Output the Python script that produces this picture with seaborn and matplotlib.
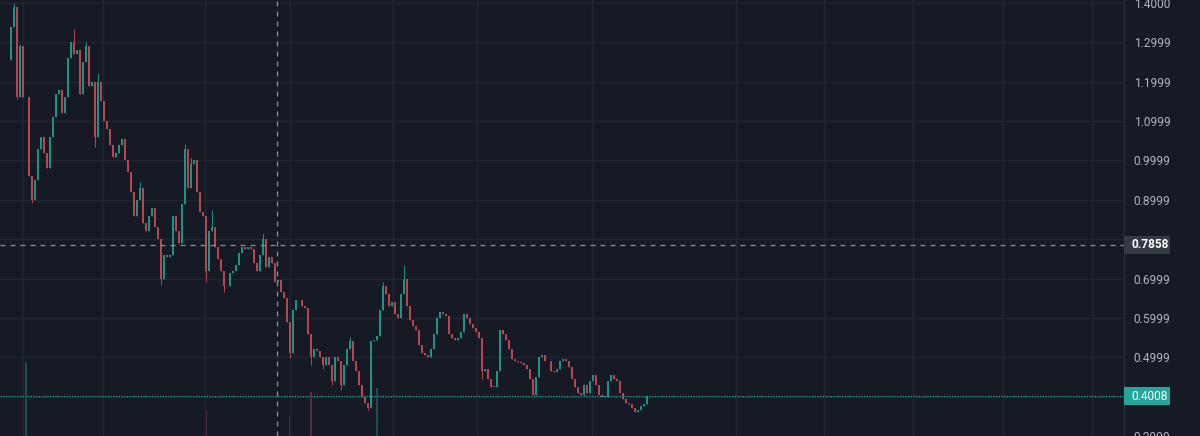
"""Dark trading-terminal style candlestick chart rendered with seaborn theme."""
import matplotlib

matplotlib.use("Agg")
import matplotlib.pyplot as plt
import matplotlib.transforms as mtransforms
from matplotlib.patches import Rectangle
import pandas as pd
import seaborn as sns

# Close prices, one per candle, read left to right off the chart.
closes = [
    1.34, 1.39, 1.16, 1.29, 1.16, 1.16, 0.96, 0.90, 0.95, 1.03,
    1.06, 1.02, 0.98, 1.06, 1.11, 1.17, 1.18, 1.12, 1.16, 1.26,
    1.30, 1.27, 1.28, 1.17, 1.25, 1.29, 1.19, 1.20, 1.06, 1.20,
    1.15, 1.10, 1.08, 1.04, 1.01, 1.02, 1.04, 1.055, 1.00, 0.97,
    0.92, 0.86, 0.90, 0.93, 0.84, 0.82, 0.86, 0.88, 0.83, 0.80,
    0.70, 0.76, 0.755, 0.76, 0.86, 0.82, 0.79, 0.89, 1.03, 0.93,
    0.99, 1.00, 0.92, 0.87, 0.86, 0.72, 0.82, 0.83, 0.78, 0.75,
    0.72, 0.68, 0.68, 0.715, 0.72, 0.735, 0.765, 0.78, 0.775, 0.78,
    0.775, 0.74, 0.72, 0.76, 0.80, 0.73, 0.755, 0.74, 0.69, 0.695,
    0.665, 0.65, 0.59, 0.51, 0.62, 0.645, 0.645, 0.63, 0.625, 0.56,
    0.50, 0.52, 0.515, 0.50, 0.48, 0.50, 0.48, 0.44, 0.50, 0.49,
    0.43, 0.48, 0.52, 0.54, 0.49, 0.465, 0.43, 0.40, 0.385, 0.37,
    0.54, 0.545, 0.555, 0.62, 0.68, 0.66, 0.63, 0.64, 0.61, 0.60,
    0.66, 0.70, 0.63, 0.595, 0.58, 0.57, 0.53, 0.51, 0.505, 0.50,
    0.52, 0.56, 0.60, 0.615, 0.61, 0.605, 0.56, 0.55, 0.545, 0.55,
    0.565, 0.61, 0.60, 0.585, 0.575, 0.565, 0.55, 0.465, 0.47, 0.445,
    0.425, 0.425, 0.465, 0.57, 0.56, 0.545, 0.52, 0.495, 0.49, 0.488,
    0.485, 0.48, 0.47, 0.445, 0.405, 0.45, 0.50, 0.505, 0.49, 0.49,
    0.465, 0.462, 0.47, 0.49, 0.495, 0.49, 0.475, 0.445, 0.425, 0.41,
    0.405, 0.43, 0.41, 0.44, 0.455, 0.43, 0.405, 0.40, 0.40, 0.44,
    0.455, 0.445, 0.44, 0.41, 0.395, 0.385, 0.38, 0.37, 0.36, 0.365,
    0.375, 0.38, 0.4008,
]
first_open = 1.255

# Visible wick extremes beyond the candle bodies (candle index -> price).
wick_highs = {1: 1.40, 3: 1.295, 21: 1.333, 25: 1.302, 29: 1.222, 43: 0.945,
              58: 1.042, 60: 1.005, 67: 0.875, 84: 0.812, 113: 0.552,
              124: 0.692, 131: 0.735}
wick_lows = {2: 1.155, 7: 0.892, 28: 1.035, 50: 0.684, 65: 0.69, 71: 0.667,
             93: 0.499, 100: 0.481, 104: 0.469, 107: 0.43, 110: 0.418,
             119: 0.365, 157: 0.445, 174: 0.403}

# Only the volume spikes are tall enough to read.
volume_idx = [5, 65, 93, 100, 122]
volume_m = [3.7, 1.3, 1.0, 2.2, 2.4]

price_ticks = [1.4000, 1.2999, 1.1999, 1.0999, 0.9999, 0.8999, 0.7999,
               0.6999, 0.5999, 0.4999, 0.3999, 0.2999]
price_labels = ["1.4000", "1.2999", "1.1999", "1.0999", "0.9999", "0.8999", "",
                "0.6999", "0.5999", "0.4999", "", "0.2999"]
# Time grid (month boundaries) in candle-index units.
time_grid = [4.0, 30.67, 64.67, 93.0, 127.33, 155.33, 193.67,
             241.67, 271.0, 300.67, 330.67, 360.33]

crosshair_idx = 88.7
crosshair_price = 0.7858
last_price = 0.4008

BG = "#161a25"
GRID = "#232632"
UP = "#26a69a"
DOWN = "#ef5350"
UP_DRAW = "#1f9287"
DOWN_DRAW = "#b9454e"
TEXT = "#b2b5be"

sns.set_theme(style="dark", rc={
    "axes.facecolor": BG,
    "figure.facecolor": BG,
    "grid.color": GRID,
})
plt.rcParams["font.family"] = ["Roboto", "DejaVu Sans"]

df = pd.DataFrame({"close": closes})
df["open"] = df["close"].shift(1).fillna(first_open)
df["body_lo"] = df[["open", "close"]].min(axis=1)
df["body_hi"] = df[["open", "close"]].max(axis=1)
df["high"] = df["body_hi"]
df["low"] = df["body_lo"]
for i, v in wick_highs.items():
    df.loc[i, "high"] = max(df.loc[i, "high"], v)
for i, v in wick_lows.items():
    df.loc[i, "low"] = min(df.loc[i, "low"], v)
df["up"] = df["close"] >= df["open"]
df["color"] = df["up"].map({True: UP_DRAW, False: DOWN_DRAW})

W, H = 1200, 436
PLOT_W = 1124
PX_PER_UNIT = 394  # vertical pixels per 1.0 of price
fig = plt.figure(figsize=(W / 100, H / 100), dpi=100)
ax = fig.add_axes([0, 0, PLOT_W / W, 1])
ax_vol = ax.twinx()
ax.set_zorder(ax_vol.get_zorder() + 1)
ax.patch.set_visible(False)
ax_vol.patch.set_visible(True)
ax_vol.patch.set_facecolor(BG)

# volume at the bottom
vol_colors = [df.loc[i, "color"] for i in volume_idx]
ax_vol.bar(volume_idx, volume_m, width=0.6, color=vol_colors, alpha=0.45,
           linewidth=0)
ax_vol.set_ylim(0, 21.8)
ax_vol.set_yticks([])
for s in ax_vol.spines.values():
    s.set_visible(False)

# candles
x = df.index.to_numpy()
ax.vlines(x, df["low"], df["high"], colors=df["color"], linewidth=0.7)
body_h = (df["body_hi"] - df["body_lo"]).clip(lower=0.0015)
ax.bar(x, body_h, bottom=df["body_lo"], width=0.66, color=df["color"],
       linewidth=0)

ax.set_xlim(-11 / 3, -11 / 3 + PLOT_W / 3)
ax.set_ylim(1.4 - 433 / PX_PER_UNIT, 1.4 + 3 / PX_PER_UNIT)
ax_vol.set_xlim(ax.get_xlim())

ax.set_xticks(time_grid)
ax.set_xticklabels([])
ax.yaxis.tick_right()
ax.set_yticks(price_ticks)
ax.set_yticklabels(price_labels)
ax.tick_params(axis="both", length=0)
ax.tick_params(axis="y", pad=7, labelsize=8.6, labelcolor=TEXT)
ax.grid(True, color=GRID, linewidth=1)
for name, s in ax.spines.items():
    s.set_visible(name == "right")
ax.spines["right"].set_color("#2a2e39")
ax.spines["right"].set_linewidth(1)

# crosshair
ax.axvline(crosshair_idx, color="#8d909a", linewidth=0.9, linestyle=(0, (4, 4)))
ax.axhline(crosshair_price, color="#8d909a", linewidth=0.9, linestyle=(0, (4, 4)))
# last price line
ax.axhline(last_price, color=UP, linewidth=0.9, linestyle=(0, (1, 1.2)))

# price tags on the scale
blend = mtransforms.blended_transform_factory(fig.transFigure, ax.transData)
tag_h = 18 / PX_PER_UNIT
for price, face, weight in [(crosshair_price, "#363a45", "bold"),
                            (last_price, UP, "normal")]:
    fig.add_artist(Rectangle((PLOT_W / W, price - tag_h / 2), 46 / W, tag_h,
                             transform=blend, facecolor=face, edgecolor="none",
                             zorder=5))
    fig.text(1131 / W, price, f"{price:.4f}", transform=blend, ha="left",
             va="center", color="white", fontsize=8.6, fontweight=weight,
             zorder=6)

fig.savefig("out.png", dpi=100, facecolor=BG)
plt.close(fig)
